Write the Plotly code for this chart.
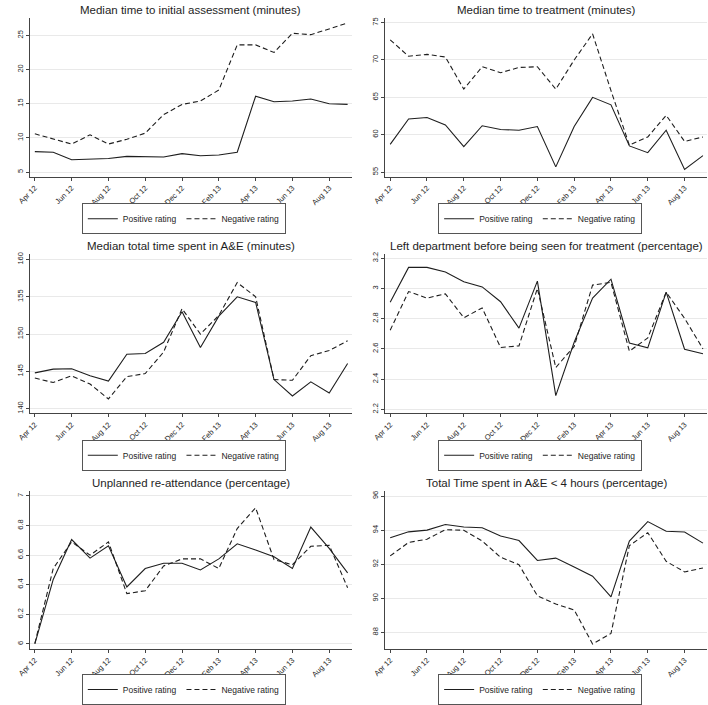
import plotly.graph_objects as go

# ---------------- data ----------------
months = ["Apr 12", "May 12", "Jun 12", "Jul 12", "Aug 12", "Sep 12", "Oct 12", "Nov 12", "Dec 12",
          "Jan 13", "Feb 13", "Mar 13", "Apr 13", "May 13", "Jun 13", "Jul 13", "Aug 13", "Sep 13"]
tick_months = ["Apr 12", "Jun 12", "Aug 12", "Oct 12", "Dec 12", "Feb 13", "Apr 13", "Jun 13", "Aug 13"]

titles = [
    "Median time to initial assessment (minutes)",
    "Median time to treatment (minutes)",
    "Median total time spent in A&E (minutes)",
    "Left department before being seen for treatment (percentage)",
    "Unplanned re-attendance (percentage)",
    "Total Time spent in A&E < 4 hours (percentage)",
]

assess_pos = [8.0, 7.9, 6.8, 6.95, 7.0, 7.3, 7.2, 7.2, 7.7, 7.4, 7.5, 7.9, 16.1, 15.3, 15.4, 15.7, 15.0, 14.9]
assess_neg = [10.6, 9.9, 9.1, 10.45, 9.1, 9.8, 10.7, 13.4, 14.9, 15.4, 17.0, 23.6, 23.6, 22.5, 25.3, 25.1, 26.0, 26.8]

treat_pos = [58.7, 62.1, 62.3, 61.3, 58.4, 61.2, 60.7, 60.6, 61.1, 55.7, 61.1, 65.0, 64.0, 58.5, 57.6, 60.6, 55.35, 57.2]
treat_neg = [72.7, 70.5, 70.75, 70.4, 66.1, 69.1, 68.3, 69.0, 69.1, 66.1, 70.0, 73.5, 65.9, 58.6, 59.7, 62.6, 59.1, 59.7]

total_pos = [144.8, 145.3, 145.35, 144.4, 143.7, 147.3, 147.4, 148.9, 153.0, 148.2, 152.4, 155.0, 154.25, 143.9, 141.7, 143.6, 142.1, 146.05]
total_neg = [144.1, 143.5, 144.4, 143.3, 141.3, 144.3, 144.7, 147.6, 153.4, 150.0, 152.5, 156.9, 155.0, 143.9, 143.8, 147.1, 147.8, 149.1]

left_pos = [2.908, 3.139, 3.139, 3.109, 3.044, 3.01, 2.912, 2.737, 3.048, 2.291, 2.644, 2.936, 3.061, 2.639, 2.607, 2.975, 2.598, 2.568]
left_neg = [2.724, 2.979, 2.936, 2.964, 2.806, 2.871, 2.609, 2.62, 3.0, 2.477, 2.616, 3.022, 3.04, 2.585, 2.672, 2.975, 2.802, 2.6]

reatt_pos = [6.0, 6.436, 6.706, 6.58, 6.664, 6.385, 6.51, 6.546, 6.545, 6.50, 6.575, 6.677, 6.635, 6.59, 6.51, 6.79, 6.646, 6.48]
reatt_neg = [6.004, 6.51, 6.69, 6.60, 6.69, 6.34, 6.36, 6.527, 6.575, 6.575, 6.51, 6.78, 6.92, 6.57, 6.535, 6.66, 6.667, 6.38]

four_pos = [93.55, 93.9, 94.0, 94.33, 94.18, 94.14, 93.66, 93.39, 92.22, 92.36, 91.84, 91.3, 90.09, 93.36, 94.5, 93.93, 93.89, 93.24]
four_neg = [92.49, 93.28, 93.47, 94.03, 93.99, 93.36, 92.41, 91.97, 90.15, 89.67, 89.32, 87.33, 87.94, 93.09, 93.85, 92.17, 91.55, 91.78]

y_ticks = [
    [5, 10, 15, 20, 25],
    [55, 60, 65, 70, 75],
    [140, 145, 150, 155, 160],
    [2.2, 2.4, 2.6, 2.8, 3.0, 3.2],
    [6.0, 6.2, 6.4, 6.6, 6.8, 7.0],
    [88, 90, 92, 94, 96],
]
y_ticktext = [
    ["5", "10", "15", "20", "25"],
    ["55", "60", "65", "70", "75"],
    ["140", "145", "150", "155", "160"],
    ["2.2", "2.4", "2.6", "2.8", "3", "3.2"],
    ["6", "6.2", "6.4", "6.6", "6.8", "7"],
    ["88", "90", "92", "94", "96"],
]
series = [(assess_pos, assess_neg), (treat_pos, treat_neg), (total_pos, total_neg),
          (left_pos, left_neg), (reatt_pos, reatt_neg), (four_pos, four_neg)]
series_names = ["Positive rating", "Negative rating"]

# ---------------- layout geometry (pixels) ----------------
W, H = 708, 705
col_x = [(17, 345), (379, 707)]
legend_cx = [174, 537]
row_y = [(16, 178), (257, 419), (498, 659)]
legend_top = [205, 446, 685]
y_ranges = [
    (4.325, 27.58),
    (54.38, 75.66),
    (139.38, 160.7),
    (2.174, 3.226),
    (5.967, 7.035),
    (87.04, 96.305),
]
x_range = (-0.28, 17.22)

FONT = "Liberation Sans, Arial, Helvetica, sans-serif"
INK = "#1e1e1e"

fig = go.Figure()
layout = dict(
    width=W, height=H,
    margin=dict(l=0, r=0, t=0, b=0),
    paper_bgcolor="white", plot_bgcolor="white",
    font=dict(family=FONT, color=INK),
    annotations=[],
)

for i in range(6):
    r, c = divmod(i, 2)
    x0, x1 = col_x[c]
    y0, y1 = row_y[r]
    sfx = "" if i == 0 else str(i + 1)
    leg = "legend" if i == 0 else f"legend{i + 1}"
    pos, neg = series[i]
    for vals, name, dash in ((pos, series_names[0], "solid"), (neg, series_names[1], "5px,3px")):
        fig.add_trace(go.Scatter(
            x=months, y=vals, mode="lines", name=name,
            line=dict(color=INK, width=1.1, dash=dash),
            xaxis="x" + sfx, yaxis="y" + sfx, legend=leg,
            hoverinfo="skip",
        ))
    layout["xaxis" + sfx] = dict(
        domain=[x0 / W, x1 / W], anchor="y" + sfx,
        type="category", categoryorder="array", categoryarray=months,
        range=list(x_range),
        tickmode="array", tickvals=tick_months, ticktext=tick_months,
        tickangle=-45, tickfont=dict(size=7.5, family=FONT, color=INK),
        ticks="outside", ticklen=3, tickcolor="#444", tickwidth=1,
        showline=True, linecolor="#444", linewidth=1,
        showgrid=False, zeroline=False, fixedrange=True,
    )
    layout["yaxis" + sfx] = dict(
        domain=[1 - y1 / H, 1 - y0 / H], anchor="x" + sfx,
        range=list(y_ranges[i]),
        tickmode="array", tickvals=y_ticks[i], ticktext=y_ticktext[i],
        tickangle=-90, tickfont=dict(size=7.5, family=FONT, color=INK),
        ticks="outside", ticklen=3, tickcolor="#444", tickwidth=1,
        showline=True, linecolor="#444", linewidth=1,
        showgrid=True, gridcolor="#e9e9e9", gridwidth=1,
        zeroline=False, fixedrange=True,
    )
    layout["annotations"].append(dict(
        text=titles[i], xref="paper", yref="paper",
        x=((x0 + x1) / 2) / W, y=1 - (y0 - 8) / H,
        xanchor="center", yanchor="middle", showarrow=False,
        font=dict(size=11.5, family=FONT, color=INK),
    ))
    layout[leg] = dict(
        orientation="h", xanchor="center", yanchor="top",
        x=legend_cx[c] / W, y=1 - legend_top[r] / H,
        bordercolor="#555", borderwidth=1, bgcolor="white",
        font=dict(size=8.5, family=FONT, color=INK),
        itemwidth=30,
    )

fig.update_layout(**layout)
fig.write_html(
    "out.html",
    config={"displayModeBar": False},
    post_script="document.body.style.margin='0px';document.body.style.overflow='hidden';",
)
